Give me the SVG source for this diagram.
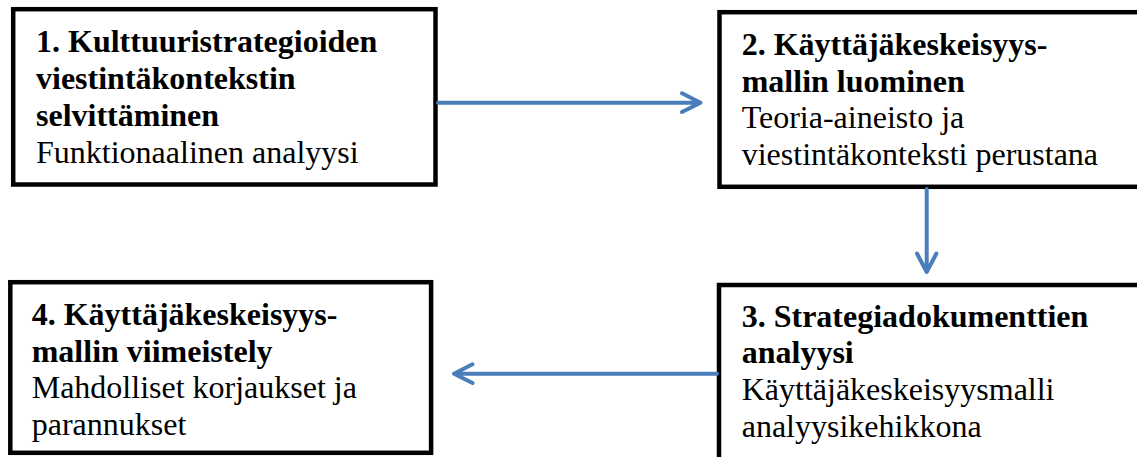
<svg xmlns="http://www.w3.org/2000/svg" width="1137" height="457" viewBox="0 0 1137 457">
<style>
.box{fill:#fff;stroke:#000;stroke-width:4.5}
.t{font-family:'Liberation Serif','Tinos','DejaVu Serif','Noto Serif',serif;font-size:32px;fill:#000}
.b{font-weight:bold}
.c{fill:none;stroke:#4A7EBB;stroke-width:4;stroke-linecap:round;stroke-linejoin:round}
</style>
<rect width="1137" height="457" fill="#fff"/>
<g id="n1">
<rect class="box" x="13.2" y="9.2" width="422.3" height="175.3"/>
<text class="t" font-family="Liberation Serif, DejaVu Serif, serif" x="36" y="51.7"><tspan class="b">1. Kulttuuristrategioiden</tspan><tspan class="b" x="36" y="89">viestintäkontekstin</tspan><tspan class="b" x="36" y="126">selvittäminen</tspan><tspan x="36" y="162.7">Funktionaalinen analyysi</tspan></text>
</g>
<g id="n2">
<rect class="box" x="719.5" y="12.2" width="440" height="174.6"/>
<text class="t" x="741.7" y="55"><tspan class="b">2. Käyttäjäkeskeisyys-</tspan><tspan class="b" x="741.7" y="91.5">mallin luominen</tspan><tspan x="741.7" y="128.3">Teoria-aineisto ja</tspan><tspan x="741.7" y="165">viestintäkonteksti perustana</tspan></text>
</g>
<g id="n3">
<rect class="box" x="719" y="285" width="440" height="190"/>
<text class="t" x="741.7" y="326.7"><tspan class="b">3. Strategiadokumenttien</tspan><tspan class="b" x="741.7" y="363">analyysi</tspan><tspan x="741.7" y="400">Käyttäjäkeskeisyysmalli</tspan><tspan x="741.7" y="436.7">analyysikehikkona</tspan></text>
</g>
<g id="n4">
<rect class="box" x="10.3" y="282.2" width="420.8" height="170.6"/>
<text class="t" x="31.7" y="325"><tspan class="b">4. Käyttäjäkeskeisyys-</tspan><tspan class="b" x="31.7" y="361.7">mallin viimeistely</tspan><tspan x="31.7" y="398.3">Mahdolliset korjaukset ja</tspan><tspan x="31.7" y="435">parannukset</tspan></text>
</g>
<g id="connectors">
<path class="c" d="M438 102.7H700M682 93.3L700.5 102.7L682 112"/>
<path class="c" d="M926.7 189V271.5M917 253.5L926.7 272L936.4 253.5"/>
<path class="c" d="M717 373.7H455M472.5 364.3L454 373.7L472.5 383"/>
</g>
</svg>
